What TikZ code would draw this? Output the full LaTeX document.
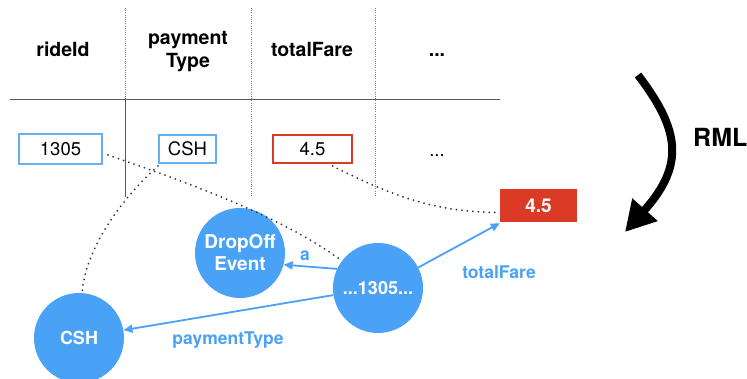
\documentclass[tikz,border=0pt]{standalone}
\usepackage{fontspec}
\setmainfont{TeX Gyre Heros}
\usetikzlibrary{arrows.meta,calc}
\definecolor{kblue}{RGB}{73,162,246}
\definecolor{kred}{RGB}{218,58,38}
\begin{document}
\begin{tikzpicture}[x=1pt,y=-1pt,
  hdr/.style={font=\fontsize{19.5}{23}\selectfont\bfseries, anchor=base, align=center, inner sep=0pt},
  cell/.style={draw, line width=2pt, font=\fontsize{18.5}{22}\selectfont, inner sep=0pt},
  circ/.style={circle, fill=kblue, minimum size=90pt, inner sep=0pt, text=white,
    font=\fontsize{18}{22}\selectfont\bfseries, align=center},
  rel/.style={draw=kblue, line width=1.8pt, -{Triangle[length=9pt,width=8pt]}},
  lbl/.style={text=kblue, font=\fontsize{17.5}{21}\selectfont\bfseries, inner sep=0pt},
  link/.style={line width=2pt, dash pattern=on 0pt off 5.5pt, line cap=round, draw=black!80},
  gridline/.style={draw=gray, line width=0.8pt, dash pattern=on 1pt off 1.2pt},
  ruleline/.style={draw=black!65, line width=0.9pt}]
\useasboundingbox (0,0) rectangle (747,379);

% table grid
\coordinate (v1t) at (125,8);  \coordinate (v1m) at (125,99); \coordinate (v1b) at (125,197);
\coordinate (v2t) at (251,8);  \coordinate (v2b) at (251,197);
\coordinate (v3t) at (375,8);  \coordinate (v3b) at (375,197);
\coordinate (hl) at (10,99);   \coordinate (hr) at (500,99);
\path[gridline] (v1t) -- (v1m);
\path[ruleline] (v1m) -- (v1b);
\path[gridline] (v2t) -- (v2b);
\path[gridline] (v3t) -- (v3b);
\path[ruleline] (hl) -- (hr);

% headers
\node[hdr] (h1) at (63,57) {rideId};
\node[hdr] (h2) at (188,68) {payment\\Type};
\node[hdr] (h3) at (312,57) {totalFare};
\node[hdr] (h4) at (437,57) {...};

% row cells
\node[cell, draw=kblue!85, minimum width=83pt, minimum height=30pt] (b1305) at (60.5,149) {1305};
\node[cell, draw=kblue!85, minimum width=57pt, minimum height=28pt] (bcsh) at (187.5,149) {CSH};
\node[cell, draw=kred, minimum width=79pt, minimum height=28pt] (b45) at (312.5,149) {4.5};
\node[font=\fontsize{18.5}{22}\selectfont, anchor=base, inner sep=0pt] (bdots) at (437,157) {...};

% graph
\node[circ, font=\fontsize{19}{22}\selectfont\bfseries] (drop) at (240,253) {DropOff\\Event};
\node[circ] (n1305) at (378,288) {...1305...};
\node[circ] (csh) at (79,338) {CSH};
\node[fill=kred, minimum width=77pt, minimum height=33pt, inner sep=0pt, text=white,
  font=\fontsize{19}{22}\selectfont\bfseries] (rfare) at (538.5,205.5) {4.5};

% dotted links
\draw[link] ($(b1305.east)+(5,6)$) .. controls (180,180) and (280,215) .. (n1305.143);
\draw[link] ($(bcsh.south west)+(0,2)$) .. controls (120,200) and (85,250) .. (csh.86);
\draw[link] ($(b45.south)+(20,2)$) .. controls (400,200) and (440,212) .. ($(rfare.west)+(0,7)$);

% relations
\draw[rel] (n1305.155) -- (drop.-15);
\draw[rel] (n1305.189) -- (csh.10);
\draw[rel] (n1305.27) -- ($(rfare.south west)+(0,1)$);
\node[lbl] (la) at (305,256) {a};
\node[lbl] (lpay) at (228,340) {paymentType};
\node[lbl] (lfare) at (499,272) {totalFare};

% RML arrow
\coordinate (rmlA) at (638,75);
\coordinate (rmlB) at (625,232);
\draw[line width=8pt, -{Triangle[length=30pt,width=32pt]}] (rmlA) .. controls (680,130) and (685,165) .. (rmlB);
\node[font=\fontsize{25}{30}\selectfont\bfseries, anchor=west, inner sep=0pt] (rml) at (693,137) {RML};
\end{tikzpicture}
\end{document}
